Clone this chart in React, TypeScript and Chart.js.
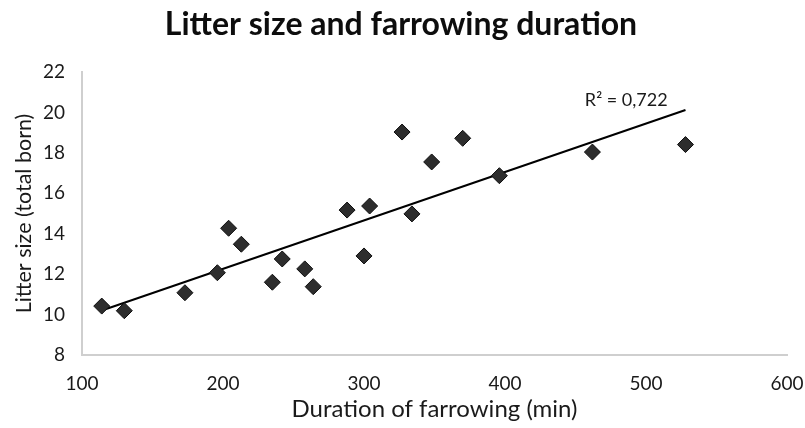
import React, { useEffect, useRef } from "react";
import { Chart, registerables } from "chart.js";

Chart.register(...registerables);

const durationMin: number[] = [114, 130, 173, 196, 204, 213, 235, 242, 258, 264, 288, 300, 304, 327, 334, 348, 370, 396, 462, 528];
const litterSize: number[] = [10.42, 10.19, 11.08, 12.07, 14.27, 13.48, 11.6, 12.75, 12.26, 11.38, 15.17, 12.9, 15.37, 19.03, 14.98, 17.55, 18.72, 16.87, 18.04, 18.41];
const trendX: number[] = [114, 528];
const trendY: number[] = [10.2, 20.12];
const xTicks: number[] = [100, 200, 300, 400, 500, 600];
const yTicks: number[] = [8, 10, 12, 14, 16, 18, 20, 22];
const titleText = "Litter size and farrowing duration";
const xTitle = "Duration of farrowing (min)";
const yTitle = "Litter size (total born)";
const r2Label = "R² = 0,722";
const r2Pos = { x: 486, y: 20.32 };

const FONT = "Lato, 'Open Sans', sans-serif";

export default function App() {
  const ref = useRef<HTMLCanvasElement | null>(null);
  useEffect(() => {
    if (!ref.current) return;
    const textPlugin = {
      id: "texts",
      afterDraw(chart: any) {
        const ctx = chart.ctx;
        ctx.save();
        ctx.fillStyle = "#0d0d0d";
        ctx.font = `bold 32px ${FONT}`;
        ctx.textAlign = "center";
        ctx.textBaseline = "alphabetic";
        ctx.fillText(titleText, 401, 35);
        const xs = chart.scales.x;
        const ys = chart.scales.y;
        ctx.font = `18px ${FONT}`;
        ctx.fillStyle = "#1a1a1a";
        ctx.fillText(r2Label, xs.getPixelForValue(r2Pos.x), ys.getPixelForValue(r2Pos.y));
        ctx.restore();
      },
    };
    const chart = new Chart(ref.current, {
      type: "scatter",
      data: {
        datasets: [
          {
            type: "line",
            data: trendX.map((x, i) => ({ x, y: trendY[i] })),
            borderColor: "#000",
            borderWidth: 2,
            pointRadius: 0,
            fill: false,
            order: 2,
          } as any,
          {
            data: durationMin.map((x, i) => ({ x, y: litterSize[i] })),
            pointStyle: "rectRot",
            pointRadius: 8,
            backgroundColor: "#2d2d2d",
            borderColor: "#0d0d0d",
            borderWidth: 1,
            order: 1,
          },
        ],
      },
      plugins: [textPlugin],
      options: {
        animation: false,
        responsive: false,
        maintainAspectRatio: false,
        layout: { padding: { top: 72, right: 0, left: 0, bottom: 0 } },
        plugins: { legend: { display: false }, tooltip: { enabled: false }, title: { display: false } },
        scales: {
          x: {
            type: "linear",
            min: 100,
            max: 600,
            afterBuildTicks: (s: any) => { s.ticks = xTicks.map((v) => ({ value: v })); },
            afterFit: (s: any) => { s.height = 73; s.paddingRight = 18; },
            grid: { display: false, drawTicks: false },
            border: { display: true, color: "#cfcfcf", width: 2 },
            ticks: { padding: 17, color: "#1a1a1a", font: { family: FONT, size: 19 } },
            title: { display: true, text: xTitle, color: "#1a1a1a", font: { family: FONT, size: 24 }, padding: 4 },
          },
          y: {
            type: "linear",
            min: 8,
            max: 22,
            afterBuildTicks: (s: any) => { s.ticks = yTicks.map((v) => ({ value: v })); },
            afterFit: (s: any) => { s.width = 82; },
            grid: { display: false, drawTicks: false },
            border: { display: true, color: "#cfcfcf", width: 2 },
            ticks: { padding: 17, color: "#1a1a1a", font: { family: FONT, size: 19 } },
            title: { display: true, text: yTitle, color: "#1a1a1a", font: { family: FONT, size: 21.5 }, padding: 11 },
          },
        },
      },
    } as any);
    return () => chart.destroy();
  }, []);
  return (
    <div style={{ position: "fixed", left: 0, top: 0, width: 805, height: 428, background: "#fff" }}>
      <canvas ref={ref} width={805} height={428} style={{ width: 805, height: 428 }} />
    </div>
  );
}
